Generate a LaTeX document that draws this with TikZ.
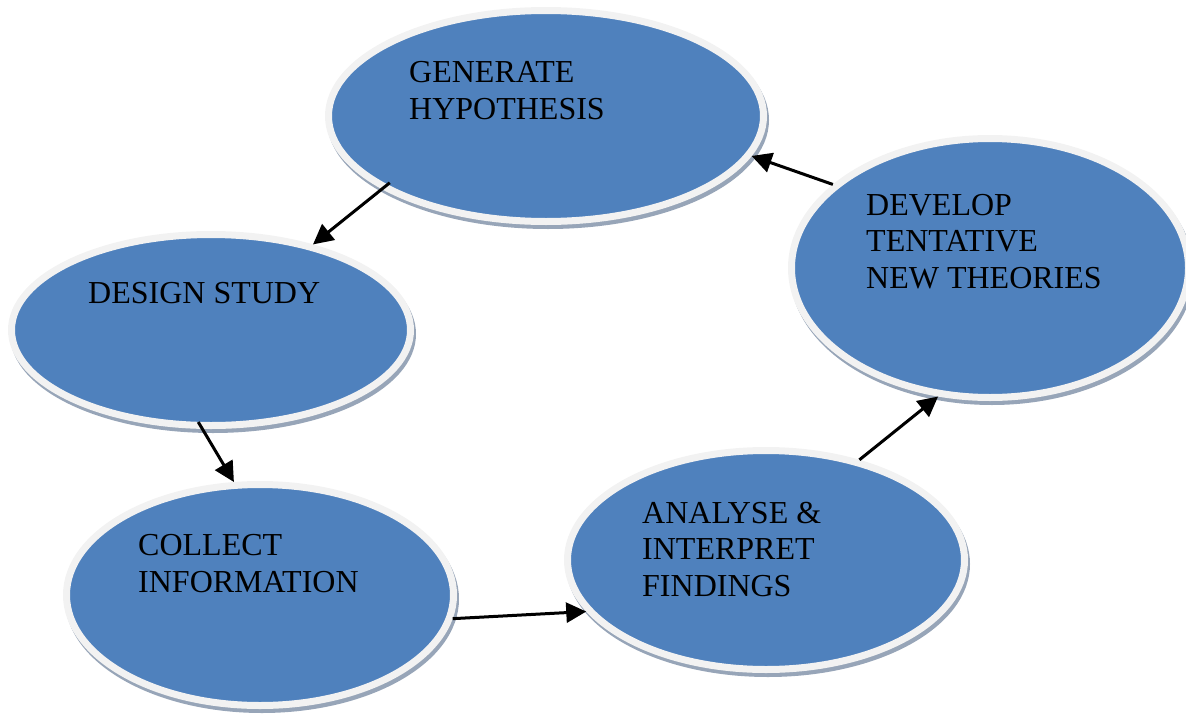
\documentclass[tikz,border=0pt]{standalone}
\usepackage{fontspec}
\setmainfont{Liberation Serif}
\usetikzlibrary{shapes.geometric,arrows.meta,shadows}
\definecolor{ovalblue}{HTML}{4F81BD}
\definecolor{ringgray}{HTML}{F2F2F2}
\definecolor{shadegray}{HTML}{97A5B8}
\tikzset{
  oval/.style={ellipse, inner sep=0pt, fill=ovalblue, draw=ringgray, line width=7pt,
    drop shadow={shadow xshift=2pt, shadow yshift=-4pt, fill=shadegray, draw=shadegray, line width=7pt, opacity=1}},
  label text/.style={anchor=base west, align=left, inner sep=0pt, font=\fontsize{32}{36.5}\selectfont, text=black},
  flow/.style={line width=3pt, draw=black, arrows={-Triangle[length=20pt,width=20pt]}}
}
\begin{document}
\begin{tikzpicture}[x=1pt,y=-1pt]
\useasboundingbox (0,0) rectangle (1186,715);
\node[oval, minimum width=435pt, minimum height=211pt] (gen) at (546,116) {};
\node[oval, minimum width=397pt, minimum height=259pt] (dev) at (990,268) {};
\node[oval, minimum width=399pt, minimum height=191pt] (des) at (211,330) {};
\node[oval, minimum width=387pt, minimum height=221pt] (col) at (260,595) {};
\node[oval, minimum width=397pt, minimum height=219pt] (ana) at (766,560) {};
\node[label text] (tgen) at (409,119) {GENERATE\\HYPOTHESIS};
\node[label text] (tdev) at (866,288) {DEVELOP\\TENTATIVE\\NEW THEORIES};
\node[label text] (tdes) at (88,303) {DESIGN STUDY};
\node[label text] (tcol) at (138,592) {COLLECT\\INFORMATION};
\node[label text] (tana) at (642,596) {ANALYSE \&\\INTERPRET\\FINDINGS};
\draw[flow, shorten <=-10pt] (gen.204) -- (des.40);
\draw[flow, shorten <=-8pt] (des.265) -- (col.103);
\draw[flow] (col.-7) -- (ana.196);
\draw[flow] (ana.47) -- (dev.248);
\draw[flow] (dev.152) -- (gen.-11);
\end{tikzpicture}
\end{document}
